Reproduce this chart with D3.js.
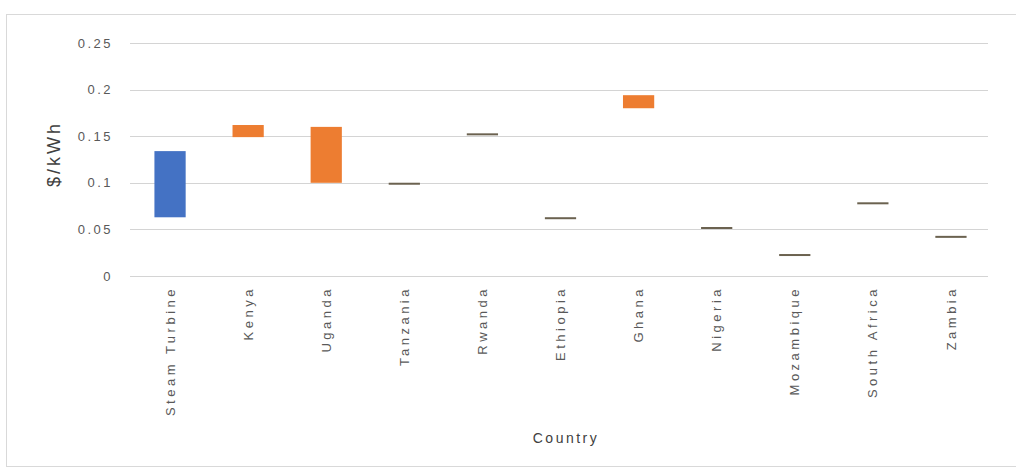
<!DOCTYPE html>
<html><head><meta charset="utf-8">
<script src="https://cdn.jsdelivr.net/npm/d3@7"></script>
<style>body{margin:0;background:#fff}svg{display:block}</style>
</head><body>
<svg id="c" width="1016" height="471"></svg>
<script>
const categories = ["Steam Turbine","Kenya","Uganda","Tanzania","Rwanda","Ethiopia","Ghana","Nigeria","Mozambique","South Africa","Zambia"];
const lowValues  = [0.063,0.149,0.100,0.0985,0.1515,0.0615,0.180,0.0510,0.0220,0.0775,0.0415];
const highValues = [0.134,0.162,0.160,0.0995,0.1525,0.0625,0.194,0.0520,0.0230,0.0785,0.0425];
const barColors  = ["#4472C4","#ED7D31","#ED7D31","#ED7D31","#ED7D31","#ED7D31","#ED7D31","#ED7D31","#ED7D31","#ED7D31","#ED7D31"];
const yTicks = [0,0.05,0.1,0.15,0.2,0.25];
const yTickLabels = ["0","0.05","0.1","0.15","0.2","0.25"];

(function(){
const svg = d3.select("#c");
const font = "'Liberation Sans', Arial, sans-serif";
svg.append("rect").attr("x",6.5).attr("y",14.5).attr("width",1030).attr("height",452)
  .attr("fill","#fff").attr("stroke","#d9d9d9");

const pL=131, pR=990, pT=43, pB=276;
const x = d3.scaleBand().domain(categories).range([pL,pR]).paddingInner(0.6).paddingOuter(0.3);
const y = d3.scaleLinear().domain([0,0.25]).range([pB,pT]);

svg.append("g").selectAll("line").data(yTicks).join("line")
  .attr("x1",pL-1).attr("x2",pR-2).attr("y1",d=>Math.round(y(d))+0.5).attr("y2",d=>Math.round(y(d))+0.5)
  .attr("stroke","#d4d4d4").attr("stroke-width",1);

const yAxis = d3.axisLeft(y).tickValues(yTicks).tickFormat((d,i)=>yTickLabels[i]).tickSize(0).tickPadding(18);
const ga = svg.append("g").attr("transform",`translate(${pL},0)`).call(yAxis);
ga.select(".domain").remove();
ga.selectAll("text").attr("font-family",font).attr("font-size",13).attr("letter-spacing","2.5px").attr("fill","#595959");

const data = categories.map((c,i)=>({c,lo:lowValues[i],hi:highValues[i],col:barColors[i]}));
svg.append("g").selectAll("rect").data(data).join("rect")
  .attr("x",d=>x(d.c)).attr("width",x.bandwidth())
  .attr("y",d=>{const h=y(d.lo)-y(d.hi); return h<3 ? (y(d.lo)+y(d.hi))/2-1 : y(d.hi);})
  .attr("height",d=>{const h=y(d.lo)-y(d.hi); return h<3 ? 2 : h;})
  .attr("fill",d=>{const h=y(d.lo)-y(d.hi); return h<3 ? "#6b6250" : d.col;});

const xAxis = d3.axisBottom(x).tickSize(0).tickPadding(0);
const gx = svg.append("g").attr("transform",`translate(0,${pB})`).call(xAxis);
gx.select(".domain").remove();
gx.selectAll("text").attr("font-family",font).attr("font-size",13).attr("letter-spacing","3.5px").attr("fill","#595959")
  .attr("transform","translate(0,10) rotate(-90)").attr("text-anchor","end").attr("dy","0.35em").attr("x",0).attr("y",0);

svg.append("text").attr("transform","translate(60,154) rotate(-90)").attr("text-anchor","middle")
  .attr("font-family",font).attr("font-size",18).attr("letter-spacing","3px").attr("fill","#404040").text("$/kWh");
svg.append("text").attr("x",566).attr("y",443).attr("text-anchor","middle")
  .attr("font-family",font).attr("font-size",14).attr("letter-spacing","2.5px").attr("fill","#404040").text("Country");
})();
</script>
</body></html>
